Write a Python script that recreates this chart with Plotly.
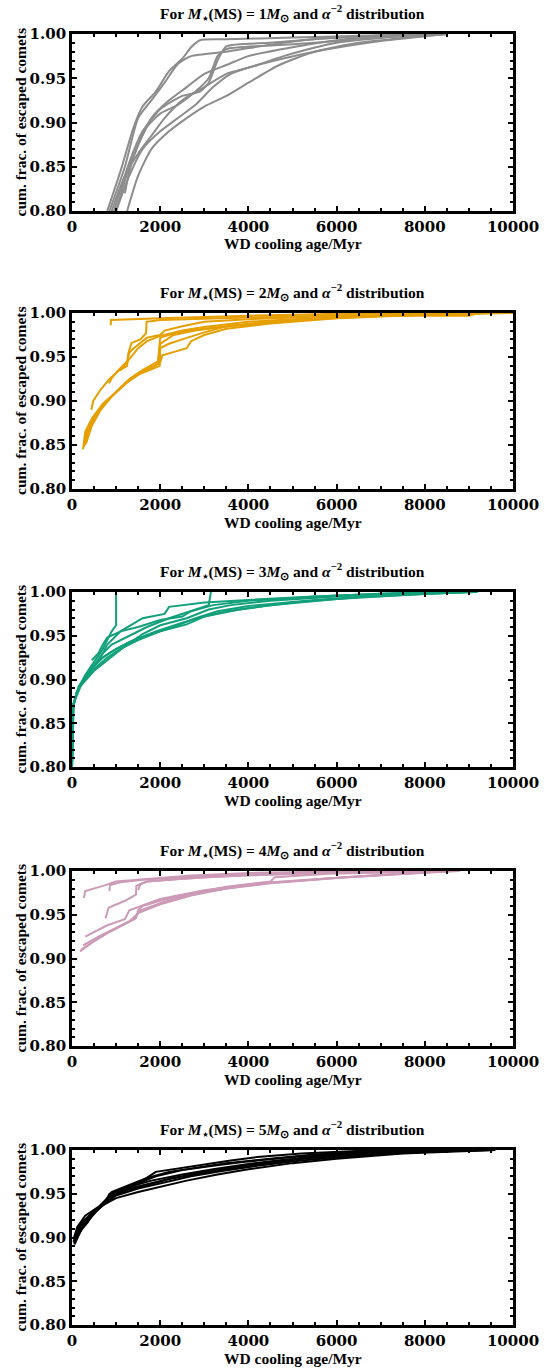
import plotly.graph_objects as go

# ---------------- data ----------------
masses = [1, 2, 3, 4, 5]
colors = ["#8c8c8c", "#E69F00", "#12A07B", "#CC9AB7", "#000000"]

x_ticks = [0, 2000, 4000, 6000, 8000, 10000]
y_ticks = [0.80, 0.85, 0.90, 0.95, 1.00]

p1_x = [
    [800, 1100, 1400, 1600, 1900, 2200, 2500, 2700, 2900, 3500, 5000, 6500, 8500],
    [850, 1200, 1500, 1800, 2100, 2400, 2700, 3500, 4500, 5500, 7000, 8500],
    [950, 1300, 1600, 2000, 2500, 2900, 3100, 3300, 3500, 4500, 6000, 8000],
    [1200, 1300, 1500, 1800, 2200, 2600, 3000, 3500, 4000, 5000, 6000, 7500],
    [1000, 1300, 1600, 2000, 2400, 2800, 3200, 3600, 4200, 4800, 6000, 8000],
    [1250, 1500, 1800, 2200, 2600, 3000, 3500, 4000, 4700, 5500, 6500, 8500],
    [900, 1200, 1500, 1800, 2100, 2500, 3000, 3500, 4000, 4600, 5500, 7000, 8500],
    [1000, 1300, 1700, 2000, 2400, 2800, 3100, 3300, 3500, 4500, 5500, 7000, 8500],
]
p1_y = [
    [0.80, 0.845, 0.895, 0.918, 0.935, 0.958, 0.972, 0.985, 0.993, 0.994, 0.996, 0.998, 1.0],
    [0.80, 0.85, 0.905, 0.925, 0.945, 0.966, 0.975, 0.98, 0.988, 0.994, 0.998, 1.0],
    [0.80, 0.855, 0.89, 0.915, 0.93, 0.935, 0.945, 0.97, 0.986, 0.99, 0.996, 1.0],
    [0.82, 0.845, 0.875, 0.905, 0.925, 0.94, 0.955, 0.965, 0.975, 0.985, 0.993, 1.0],
    [0.80, 0.84, 0.87, 0.89, 0.905, 0.92, 0.94, 0.955, 0.965, 0.975, 0.99, 1.0],
    [0.80, 0.84, 0.87, 0.89, 0.905, 0.918, 0.93, 0.945, 0.965, 0.98, 0.99, 1.0],
    [0.80, 0.84, 0.865, 0.885, 0.905, 0.925, 0.94, 0.955, 0.962, 0.97, 0.98, 0.992, 1.0],
    [0.80, 0.85, 0.895, 0.91, 0.92, 0.935, 0.95, 0.975, 0.983, 0.987, 0.99, 0.996, 1.0],
]

p2_x = [
    [880, 880, 2000, 4000, 6000, 8000, 10000],
    [440, 480, 650, 850, 1050, 1250, 1280, 1350, 1550, 1680, 1690, 2000, 4000, 6000, 8000, 9100, 9300],
    [840, 900, 1050, 1250, 1300, 1400, 1700, 2000, 2100, 2500, 3000, 4000, 6000, 9000, 9200],
    [250, 300, 450, 700, 950, 1250, 1600, 1950, 2000, 2300, 2800, 3500, 4500, 6000, 8000, 10000],
    [270, 350, 500, 750, 1000, 1300, 1600, 1950, 2000, 2400, 3000, 4000, 5500, 7500, 9500],
    [300, 400, 600, 850, 1150, 1450, 1800, 2000, 2050, 2600, 2700, 3000, 3500, 4500, 6000, 8000, 9500],
    [320, 450, 650, 900, 1200, 1500, 1800, 1990, 2000, 2200, 2500, 3000, 3500, 4500, 6000, 8500],
    [1100, 1300, 1500, 1700, 2000, 2500, 3000, 4000, 5000, 7000, 9000],
]
p2_y = [
    [0.986, 0.992, 0.994, 0.997, 0.999, 1.0, 1.0],
    [0.89, 0.90, 0.913, 0.925, 0.934, 0.94, 0.955, 0.966, 0.97, 0.977, 0.99, 0.992, 0.995, 0.997, 0.998, 0.9985, 1.0],
    [0.92, 0.926, 0.935, 0.945, 0.955, 0.96, 0.972, 0.975, 0.98, 0.985, 0.99, 0.993, 0.997, 0.997, 1.0],
    [0.845, 0.865, 0.88, 0.897, 0.908, 0.921, 0.933, 0.942, 0.965, 0.975, 0.98, 0.985, 0.99, 0.995, 0.998, 1.0],
    [0.848, 0.868, 0.883, 0.898, 0.91, 0.925, 0.935, 0.945, 0.972, 0.978, 0.982, 0.987, 0.993, 0.998, 1.0],
    [0.85, 0.87, 0.888, 0.903, 0.917, 0.93, 0.938, 0.944, 0.952, 0.96, 0.968, 0.975, 0.982, 0.988, 0.994, 0.998, 1.0],
    [0.852, 0.872, 0.89, 0.905, 0.92, 0.93, 0.936, 0.94, 0.96, 0.965, 0.97, 0.978, 0.985, 0.99, 0.995, 1.0],
    [0.935, 0.948, 0.96, 0.968, 0.974, 0.98, 0.984, 0.99, 0.993, 0.997, 1.0],
]

p3_x = [
    [0, 10, 50, 150, 300, 500, 700, 800, 900, 1000, 1000],
    [0, 20, 100, 300, 500, 700, 900, 1300, 1700, 2200, 2700, 3100, 3150],
    [0, 20, 150, 400, 700, 1000, 1400, 1900, 2500, 3000, 3500, 4500, 6000, 8000, 9200],
    [0, 30, 200, 450, 700, 800, 1100, 1600, 2100, 2200, 3000, 4000, 5500, 7000, 8500],
    [0, 25, 150, 350, 600, 900, 1300, 1800, 2300, 2800, 3300, 4000, 5500, 7000, 9000],
    [0, 20, 120, 300, 500, 800, 1100, 1500, 2000, 2600, 3000, 3800, 5000, 6500, 8500, 9000],
    [450, 600, 700, 800, 1100, 1500, 2000, 2500, 2700, 3200, 4000, 5500, 7500, 8500],
    [0, 40, 200, 500, 800, 1200, 1600, 2000, 2600, 3100, 3600, 4500, 6000, 8000, 9000],
]
p3_y = [
    [0.80, 0.86, 0.875, 0.89, 0.905, 0.92, 0.935, 0.945, 0.955, 0.962, 1.0],
    [0.80, 0.865, 0.885, 0.903, 0.915, 0.93, 0.94, 0.95, 0.96, 0.97, 0.978, 0.985, 1.0],
    [0.80, 0.87, 0.89, 0.91, 0.925, 0.935, 0.945, 0.955, 0.965, 0.972, 0.978, 0.985, 0.992, 0.998, 1.0],
    [0.80, 0.872, 0.895, 0.913, 0.93, 0.94, 0.955, 0.97, 0.975, 0.983, 0.988, 0.991, 0.995, 0.998, 1.0],
    [0.80, 0.87, 0.892, 0.907, 0.922, 0.932, 0.943, 0.952, 0.96, 0.97, 0.978, 0.984, 0.991, 0.996, 1.0],
    [0.80, 0.868, 0.887, 0.90, 0.912, 0.925, 0.935, 0.945, 0.955, 0.963, 0.972, 0.98, 0.988, 0.994, 0.999, 1.0],
    [0.922, 0.93, 0.94, 0.948, 0.955, 0.96, 0.968, 0.972, 0.978, 0.985, 0.99, 0.995, 0.999, 1.0],
    [0.80, 0.873, 0.893, 0.91, 0.922, 0.938, 0.952, 0.962, 0.97, 0.98, 0.985, 0.99, 0.995, 0.999, 1.0],
]

p4_x = [
    [270, 300, 700, 1000, 1700, 2700, 4200, 6000, 8000],
    [850, 860, 1100, 1600, 2500, 3500, 5000, 7000],
    [760, 830, 1200, 1450, 1460, 1700, 2400, 3500, 5000, 7000, 8500],
    [1500, 1550, 1700, 2200, 3000, 4500, 6500, 8000],
    [180, 450, 800, 1200, 1450, 1500, 1600, 2000, 2700, 3500, 4500, 4600, 5800, 8700],
    [300, 800, 1200, 1300, 2000, 3000, 4200, 5500, 6500, 8600],
    [200, 500, 900, 1300, 1500, 2000, 2700, 3500, 4500, 6000, 8000, 8800],
    [250, 600, 1000, 1400, 1550, 2100, 2900, 3800, 4600, 6200, 8500],
]
p4_y = [
    [0.969, 0.977, 0.983, 0.988, 0.991, 0.995, 0.998, 0.9995, 1.0],
    [0.977, 0.984, 0.987, 0.99, 0.993, 0.996, 0.998, 1.0],
    [0.946, 0.958, 0.966, 0.973, 0.983, 0.988, 0.991, 0.994, 0.997, 0.999, 1.0],
    [0.978, 0.985, 0.988, 0.99, 0.993, 0.996, 0.999, 1.0],
    [0.908, 0.918, 0.929, 0.939, 0.946, 0.955, 0.96, 0.966, 0.974, 0.982, 0.988, 0.993, 0.997, 1.0],
    [0.925, 0.938, 0.945, 0.955, 0.968, 0.978, 0.986, 0.991, 0.994, 1.0],
    [0.91, 0.92, 0.932, 0.942, 0.952, 0.962, 0.972, 0.98, 0.986, 0.992, 0.998, 1.0],
    [0.915, 0.925, 0.935, 0.945, 0.955, 0.965, 0.975, 0.982, 0.987, 0.993, 1.0],
]

p5_x = [
    [40, 100, 250, 500, 750, 850, 1200, 1600, 1900, 2400, 3000, 3600, 4200, 5200, 6500, 8000],
    [50, 150, 300, 500, 750, 900, 1300, 1700, 2200, 2800, 3500, 4500, 5500, 7000, 8500],
    [60, 200, 400, 650, 800, 1200, 1700, 2200, 2800, 3500, 4300, 5200, 6200, 8000, 9500],
    [30, 150, 350, 450, 700, 1000, 1500, 2000, 2600, 3300, 4000, 5000, 6000, 7500, 9600],
    [45, 120, 300, 600, 900, 1300, 1800, 2500, 3200, 4000, 5000, 6000, 8000, 9000],
    [55, 200, 450, 700, 850, 1300, 1800, 2300, 3000, 3800, 4600, 5600, 7000, 9200],
    [40, 180, 400, 700, 1000, 1500, 2000, 2700, 3400, 4200, 5200, 6300, 8000, 9500],
    [50, 250, 550, 800, 1100, 1500, 1900, 2500, 3200, 4000, 5000, 6000, 7500, 8800],
]
p5_y = [
    [0.895, 0.905, 0.918, 0.93, 0.94, 0.95, 0.957, 0.965, 0.975, 0.979, 0.983, 0.988, 0.992, 0.996, 0.999, 1.0],
    [0.893, 0.91, 0.92, 0.928, 0.94, 0.952, 0.96, 0.968, 0.975, 0.98, 0.985, 0.99, 0.995, 0.998, 1.0],
    [0.897, 0.91, 0.925, 0.935, 0.945, 0.953, 0.96, 0.967, 0.972, 0.978, 0.984, 0.99, 0.994, 0.998, 1.0],
    [0.895, 0.905, 0.917, 0.925, 0.937, 0.945, 0.952, 0.958, 0.965, 0.972, 0.978, 0.985, 0.99, 0.996, 1.0],
    [0.90, 0.912, 0.925, 0.935, 0.95, 0.958, 0.965, 0.972, 0.978, 0.984, 0.99, 0.995, 0.999, 1.0],
    [0.892, 0.908, 0.928, 0.937, 0.947, 0.956, 0.962, 0.968, 0.975, 0.981, 0.987, 0.992, 0.997, 1.0],
    [0.898, 0.915, 0.925, 0.936, 0.948, 0.956, 0.962, 0.97, 0.976, 0.982, 0.988, 0.993, 0.998, 1.0],
    [0.894, 0.912, 0.93, 0.942, 0.952, 0.962, 0.97, 0.977, 0.982, 0.987, 0.992, 0.996, 0.999, 1.0],
]

panel_x = [p1_x, p2_x, p3_x, p4_x, p5_x]
panel_y = [p1_y, p2_y, p3_y, p4_y, p5_y]

# ---------------- layout geometry (pixels) ----------------
W, H = 545, 1368
left_px, right_px = 72, 513
tops = [34, 313, 592, 871, 1150]
bottoms = [211, 489, 767, 1046, 1325]

SERIF = "Liberation Serif"
TICKFONT = "DejaVu Serif"

fig = go.Figure()
annotations = []
layout_axes = {}

for i in range(5):
    xa = "x" if i == 0 else f"x{i+1}"
    ya = "y" if i == 0 else f"y{i+1}"
    spline = i == 0
    for xs, ys in zip(panel_x[i], panel_y[i]):
        fig.add_trace(go.Scatter(
            x=xs, y=ys, mode="lines", xaxis=xa, yaxis=ya,
            line=dict(color=colors[i], width=2,
                      shape="spline" if spline else "linear",
                      smoothing=0.6 if spline else None),
            showlegend=False, hoverinfo="skip"))

    ydom = [1 - bottoms[i] / H, 1 - tops[i] / H]
    xdom = [left_px / W, right_px / W]
    common = dict(showline=True, linewidth=2.8, linecolor="black", mirror="allticks",
                  ticks="inside", tickwidth=2.2, tickcolor="black", ticklen=5,
                  showgrid=False, zeroline=False, automargin=False,
                  tickfont=dict(family=TICKFONT, size=15, color="black", weight="bold"))
    xkey = "xaxis" if i == 0 else f"xaxis{i+1}"
    ykey = "yaxis" if i == 0 else f"yaxis{i+1}"
    layout_axes[xkey] = dict(domain=xdom, anchor=ya, range=[0, 10000],
                             tickvals=x_ticks, ticktext=[str(v) for v in x_ticks],
                             minor=dict(dtick=500, tick0=0, ticks="inside", ticklen=3,
                                        tickwidth=2, tickcolor="black", showgrid=False),
                             **common)
    layout_axes[ykey] = dict(domain=ydom, anchor=xa, range=[0.80, 1.00],
                             tickvals=y_ticks, ticktext=[f"{v:.2f}" for v in y_ticks],
                             minor=dict(dtick=0.01, tick0=0.80, ticks="inside", ticklen=3,
                                        tickwidth=2, tickcolor="black", showgrid=False),
                             **common)

    cx = (left_px + right_px) / 2 / W
    annotations.append(dict(
        text=f"For <i>M</i><sub>⋆</sub>(MS) = {masses[i]}<i>M</i><sub>⊙</sub> and <i>α</i><sup>−2</sup> distribution",
        x=cx, y=1 - (tops[i] - 21) / H, xref="paper", yref="paper",
        xanchor="center", yanchor="middle", showarrow=False,
        font=dict(family=SERIF, size=15.5, color="black", weight="bold")))
    annotations.append(dict(
        text="WD cooling age/Myr",
        x=cx, y=1 - (bottoms[i] + 33) / H, xref="paper", yref="paper",
        xanchor="center", yanchor="middle", showarrow=False,
        font=dict(family=SERIF, size=15.5, color="black", weight="bold")))
    annotations.append(dict(
        text="cum. frac. of escaped comets",
        x=20 / W, y=1 - (tops[i] + bottoms[i]) / 2 / H, xref="paper", yref="paper",
        xanchor="center", yanchor="middle", showarrow=False, textangle=-90,
        font=dict(family=SERIF, size=15.5, color="black", weight="bold")))

fig.update_layout(
    width=W, height=H,
    margin=dict(l=0, r=0, t=0, b=0),
    paper_bgcolor="white", plot_bgcolor="white",
    annotations=annotations,
    **layout_axes)

fig.write_html("out.html",
               config={"displayModeBar": False},
               post_script="document.body.style.margin='0px';document.body.style.overflow='hidden';")
